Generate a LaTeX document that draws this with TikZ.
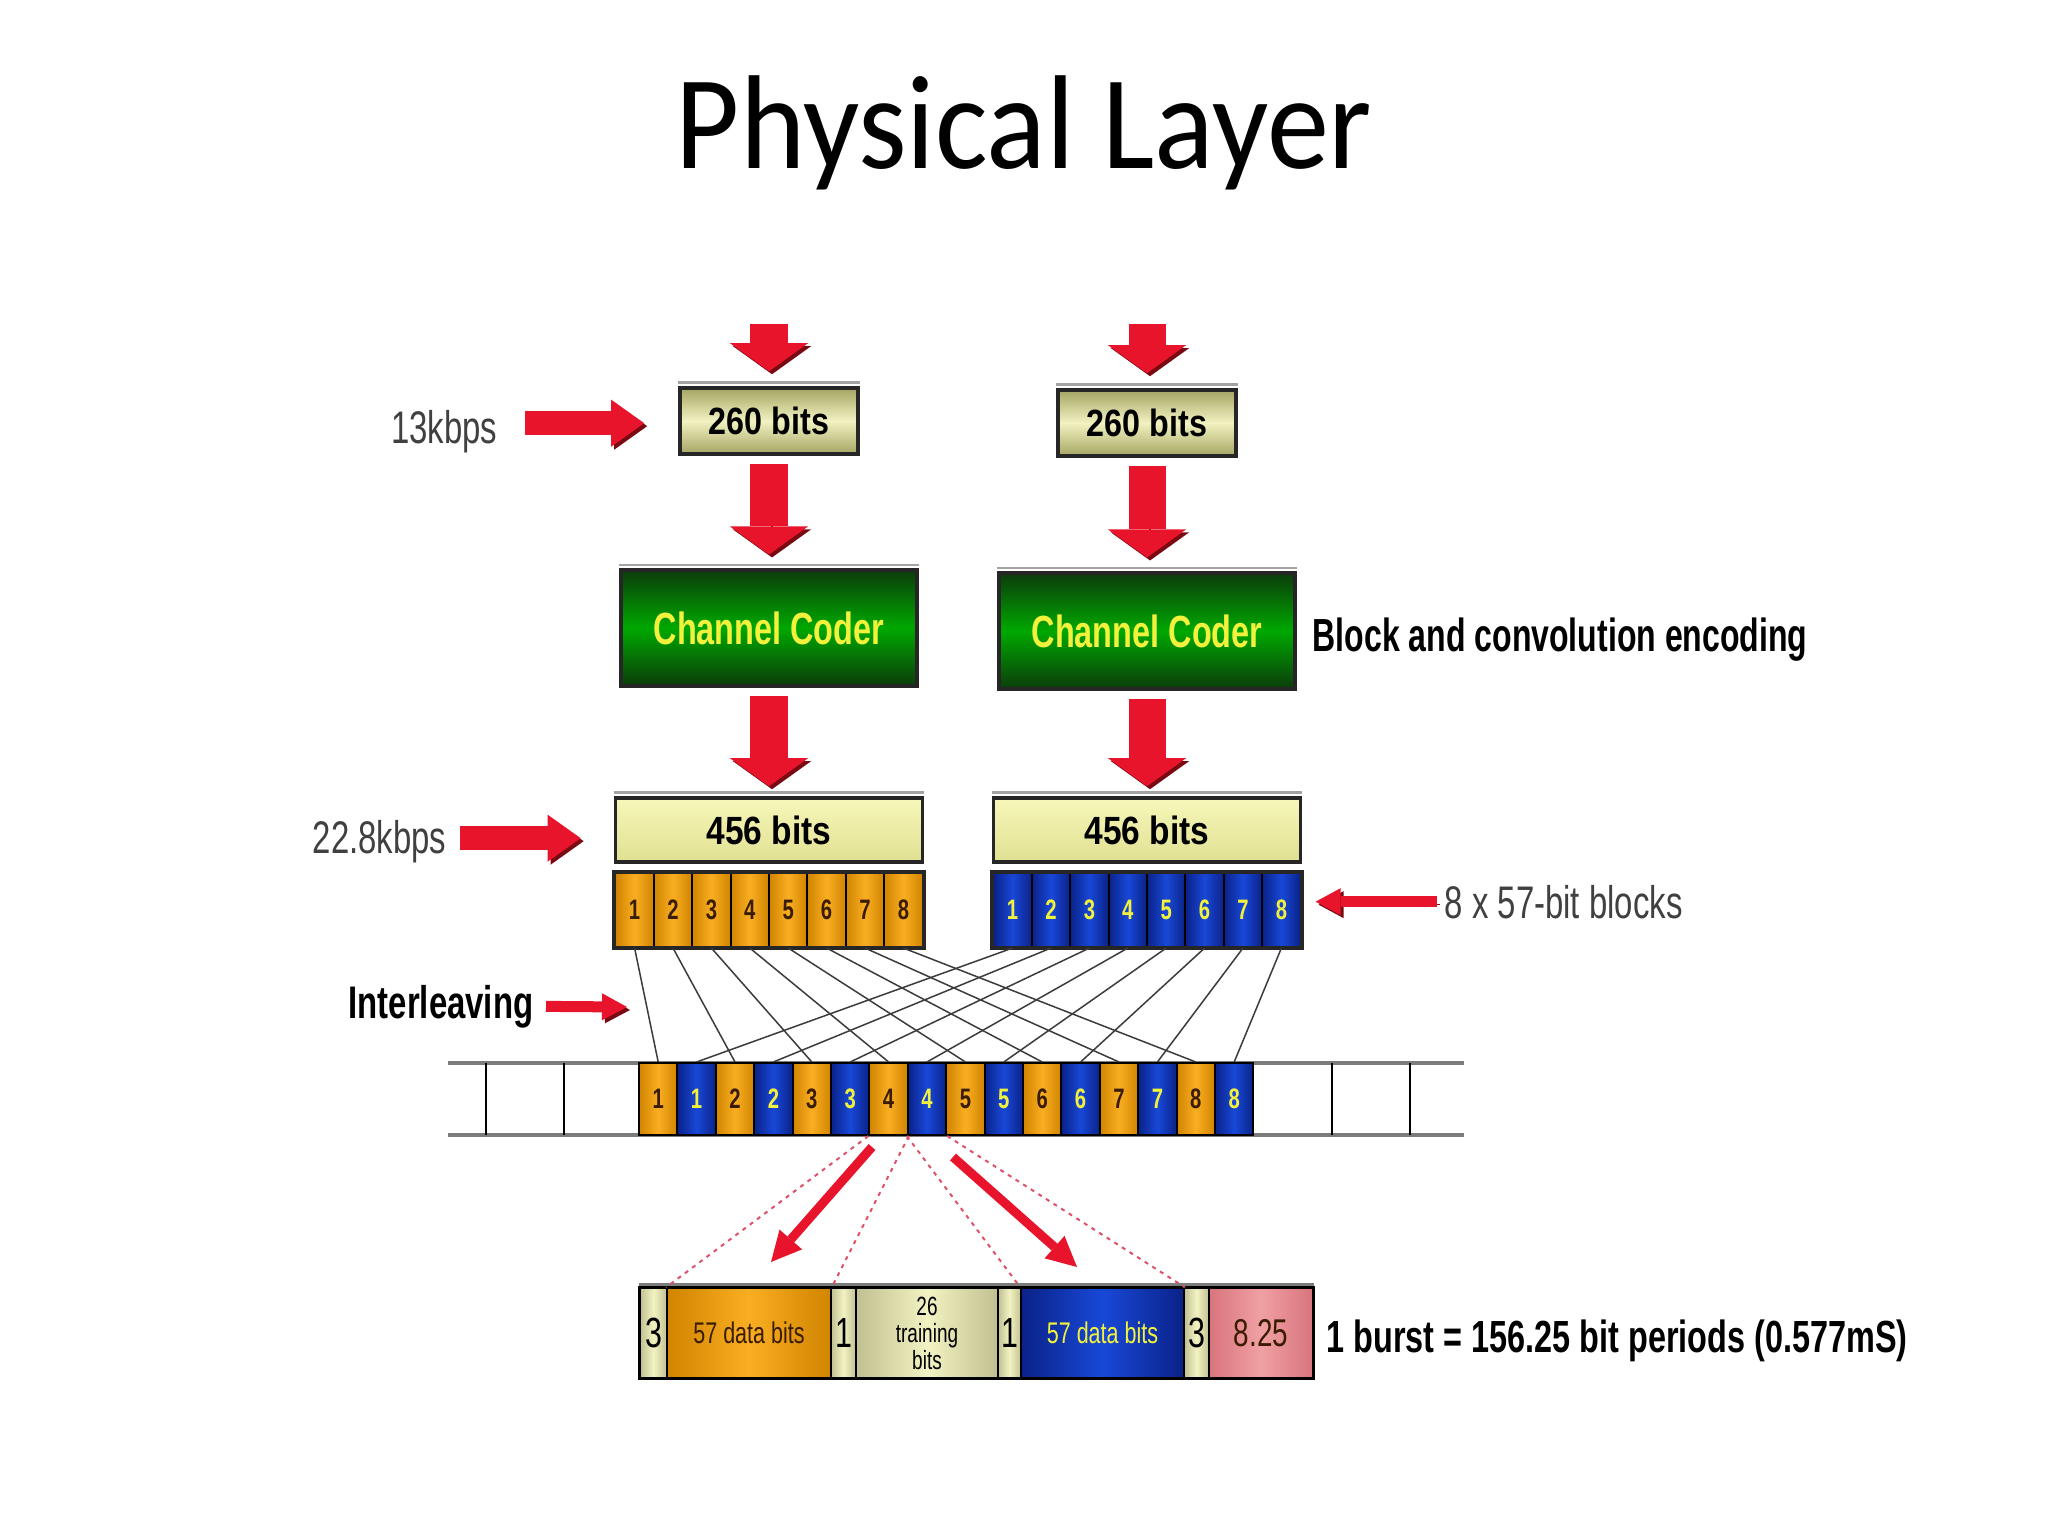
\documentclass[tikz,border=0pt]{standalone}
\usepackage{fontspec}
\setmainfont{Liberation Sans}
\newfontfamily\titlefont[FakeStretch=0.93]{Carlito}
\newfontfamily\cond[FakeStretch=0.72]{Liberation Sans}
\newfontfamily\xcond[FakeStretch=0.69]{Liberation Sans}
\newfontfamily\semicond[FakeStretch=0.85]{Liberation Sans}
\usetikzlibrary{
  arrows.meta
}

\definecolor{arrowred}{HTML}{E8142C}
\definecolor{arrowdark}{HTML}{7A0A12}
\definecolor{coderlo}{HTML}{0B3D0B}
\definecolor{coderhi}{HTML}{00A800}
\definecolor{textyel}{HTML}{F2F23C}
\definecolor{khakilo}{HTML}{A4A462}
\definecolor{khakihi}{HTML}{F2F2C2}
\definecolor{paleyel}{HTML}{F7F7BA}
\definecolor{paleyeldark}{HTML}{E0E092}
\definecolor{orglo}{HTML}{D08400}
\definecolor{orghi}{HTML}{F9AE22}
\definecolor{bluelo}{HTML}{0A2288}
\definecolor{bluehi}{HTML}{1848D8}
\definecolor{pinklo}{HTML}{D8747C}
\definecolor{pinkhi}{HTML}{F0A0A4}
\definecolor{darkbrown}{HTML}{3A1C00}
\definecolor{wirecol}{HTML}{3C3C3C}
\definecolor{railcol}{HTML}{7C7C7C}
\definecolor{dashred}{HTML}{E0506A}

\tikzset{
  shadowed/.style={preaction={draw=arrowdark, transform canvas={shift={(0.03cm,-0.03cm)}}}},
  fatarrow/.style={shadowed, draw=arrowred, line width=0.37cm,
    -{Triangle[length=0.28cm,width=0.78cm,line width=0pt]}},
  ratearrow/.style={shadowed, draw=arrowred, line width=0.24cm,
    -{Triangle[length=0.33cm,width=0.47cm,line width=0pt]}},
  smallarrow/.style={shadowed, draw=arrowred, line width=0.11cm,
    -{Triangle[length=0.25cm,width=0.27cm,line width=0pt]}},
  tiltarrow/.style={draw=arrowred, line width=0.09cm,
    -{Triangle[length=0.30cm,width=0.30cm,line width=0pt]}},
  lidded/.style={postaction={draw=railcol!70, line width=0.02cm,
    transform canvas={yshift=0.035cm}, shorten <=0pt}},
  bitbox/.style={draw=black!85, line width=0.035cm, top color=khakilo, bottom color=khakilo,
    middle color=khakihi, font=\semicond\bfseries\fontsize{10.8}{12}\selectfont,
    minimum width=1.78cm, minimum height=0.66cm, inner sep=0pt},
  coder/.style={draw=black!85, line width=0.04cm, top color=coderlo, bottom color=coderlo,
    middle color=coderhi, text=textyel, font=\cond\bfseries\fontsize{12.8}{14}\selectfont,
    minimum width=2.96cm, minimum height=1.15cm, inner sep=0pt},
  codedbox/.style={draw=black!85, line width=0.035cm, top color=paleyel, bottom color=paleyeldark,
    font=\semicond\bfseries\fontsize{11.2}{12}\selectfont,
    minimum width=3.07cm, minimum height=0.64cm, inner sep=0pt},
  ocell/.style={draw=black, line width=0.02cm, left color=orglo, right color=orglo,
    middle color=orghi, text=darkbrown, font=\cond\bfseries\fontsize{8}{8}\selectfont,
    minimum width=0.384cm, minimum height=0.74cm, inner sep=0pt},
  bcell/.style={ocell, left color=bluelo, right color=bluelo, middle color=bluehi, text=textyel},
  khakicell/.style={draw=black, line width=0.015cm, left color=khakilo!70!white, right color=khakilo!70!white,
    middle color=khakihi, font=\cond\fontsize{12}{12}\selectfont,
    minimum height=0.90cm, inner sep=0pt},
  datacell/.style={khakicell, left color=orglo, right color=orglo, middle color=orghi,
    text=darkbrown, font=\cond\fontsize{8.5}{9}\selectfont},
  bluedatacell/.style={datacell, left color=bluelo, right color=bluelo, middle color=bluehi, text=textyel},
  padcell/.style={khakicell, left color=pinklo, right color=pinklo, middle color=pinkhi,
    text=darkbrown, font=\cond\fontsize{11}{11}\selectfont},
  ratetext/.style={font=\cond\fontsize{13}{14}\selectfont, text=black!75, inner sep=0pt},
  sidetext/.style={font=\xcond\bfseries\fontsize{13.2}{14}\selectfont, inner sep=0pt},
  wireline/.style={draw=wirecol, line width=0.015cm},
  railline/.style={draw=railcol, line width=0.04cm},
  reddash/.style={draw=dashred, line width=0.02cm, dash pattern=on 0.04cm off 0.05cm}
}

\begin{document}
\begin{tikzpicture}[x=0.01cm, y=-0.01cm]
  \def\Xl{769}
  \def\Xr{1147}
  \def\Yrow{910}
  \def\Ys{1099}
  \def\Yb{1333}
  \useasboundingbox (0,0) rectangle (2048,1536);
  \fill[white] (0,0) rectangle (2048,1536);

  \node[font=\titlefont\fontsize{38}{42}\selectfont, anchor=base, inner sep=0pt] (title) at (1024,168) {Physical Layer};

        \node[bitbox] (inl) at (\Xl,421) {260 bits};
        \node[bitbox] (inr) at (\Xr,423) {260 bits};
        \node[coder] (ccl) at (\Xl,628) {Channel Coder};
        \node[coder] (ccr) at (\Xr,631) {Channel Coder};
        \node[codedbox] (outl) at (\Xl,830) {456 bits};
        \node[codedbox] (outr) at (\Xr,830) {456 bits};
  \foreach \n in {inl,inr,ccl,ccr,outl,outr}
	\draw[railcol!70, line width=0.025cm] ([yshift=0.035cm]\n.north west) -- ([yshift=0.035cm]\n.north east);

  \foreach \i in {1,...,8}{
        \node[ocell] (la\i) at ({\Xl+38.4*(\i-4.5)},\Yrow) {\i};
        \node[bcell] (lb\i) at ({\Xr+38.4*(\i-4.5)},\Yrow) {\i};
  }
        \draw[line width=0.04cm, black!85] (la1.north west) rectangle (la8.south east);
        \draw[line width=0.04cm, black!85] (lb1.north west) rectangle (lb8.south east);

        \coordinate (topl) at (\Xl,324);
        \coordinate (topr) at (\Xr,324);
	\draw[fatarrow, shorten >=0.15cm] (topl) -- (inl);
	\draw[fatarrow, shorten >=0.15cm] (topr) -- (inr);
	\draw[fatarrow, shorten <=0.08cm, shorten >=0.14cm] (inl) -- (ccl);
	\draw[fatarrow, shorten <=0.08cm, shorten >=0.14cm] (inr) -- (ccr);
	\draw[fatarrow, shorten <=0.08cm, shorten >=0.10cm] (ccl) -- (outl);
	\draw[fatarrow, shorten <=0.08cm, shorten >=0.10cm] (ccr) -- (outr);

        \node[ratetext, anchor=base east] (r13) at (498,443) {13kbps};
        \coordinate (r13a) at ([yshift=0.08cm]r13.east);
	\draw[ratearrow, shorten <=0.27cm, shorten >=0.34cm] (r13a) -- (r13a -| inl.west);

        \node[ratetext, anchor=base east] (r22) at (447,853) {22.8kbps};
        \coordinate (r22a) at ([yshift=0.03cm]r22.east);
	\draw[ratearrow, shorten <=0.13cm, shorten >=0.33cm] (r22a) -- (r22a -| outl.west);

        \node[sidetext, anchor=base west] (enc) at (1312,651) {Block and convolution encoding};

        \node[ratetext, anchor=base west] (blk) at (1444,918) {8 x 57-bit blocks};
	\draw[smallarrow, shorten <=0.07cm, shorten >=0.14cm] (blk.west) -- (blk.west -| lb8.east);

        \node[sidetext, font=\cond\bfseries\fontsize{13}{14}\selectfont, anchor=base east] (ilv) at (534,1018) {Interleaving};
        \coordinate (ilvtip) at (627,1007);
	\draw[smallarrow, shorten <=0.12cm] (ilv.east) -- (ilvtip);

	\draw[railline] (448,1063) -- (1464,1063);
	\draw[railline] (448,1135) -- (1464,1135);
  \foreach \x in {486,564,1332,1410}
	\draw[line width=0.015cm] (\x,1063) -- (\x,1135);
  \foreach \i in {1,...,8}{
        \node[ocell, minimum height=0.72cm] (so\i) at ({639+38.4*(2*\i-1.5)},\Ys) {\i};
        \node[bcell, minimum height=0.72cm] (sb\i) at ({639+38.4*(2*\i-0.5)},\Ys) {\i};
  }
  \foreach \i in {1,...,8}{
	\draw[wireline] (la\i.south) -- (so\i.north);
	\draw[wireline] (lb\i.south) -- (sb\i.north);
  }

        \node[khakicell, minimum width=0.27cm] (bg1) at (653.5,\Yb) {3};
        \node[datacell, minimum width=1.64cm] (bd1) at (749,\Yb) {57 data bits};
        \node[khakicell, minimum width=0.25cm] (bg2) at (843.5,\Yb) {1};
        \node[khakicell, minimum width=1.42cm, align=center, font=\cond\fontsize{7.5}{7.7}\selectfont] (btr) at (927,\Yb) {26\\training\\bits};
        \node[khakicell, minimum width=0.23cm] (bg3) at (1009.5,\Yb) {1};
        \node[bluedatacell, minimum width=1.63cm] (bd2) at (1102.5,\Yb) {57 data bits};
        \node[khakicell, minimum width=0.25cm] (bg4) at (1196.5,\Yb) {3};
        \node[padcell, minimum width=1.04cm] (bpad) at (1261,\Yb) {8.25};
	\draw[railcol, line width=0.03cm] ([yshift=0.03cm]bg1.north west) -- ([yshift=0.03cm]bpad.north east);
	\draw[line width=0.03cm] (bg1.north west) rectangle (bpad.south east);

        \node[sidetext, font=\cond\bfseries\fontsize{12.8}{14}\selectfont, anchor=base west] (burst) at (1326,1352) {1 burst = 156.25 bit periods (0.577mS)};

	\draw[reddash] (so4.south west) -- (bd1.north west);
	\draw[reddash] (so4.south east) -- (bd1.north east);
	\draw[reddash] (sb4.south west) -- (bd2.north west);
	\draw[reddash] (sb4.south east) -- (bd2.north east);

        \coordinate (spl) at (872,1147);
        \coordinate (epl) at (771,1262);
        \coordinate (spr) at (953,1157);
        \coordinate (epr) at (1077,1267);
	\draw[tiltarrow] (spl) -- (epl);
	\draw[tiltarrow] (spr) -- (epr);

\end{tikzpicture}
\end{document}
